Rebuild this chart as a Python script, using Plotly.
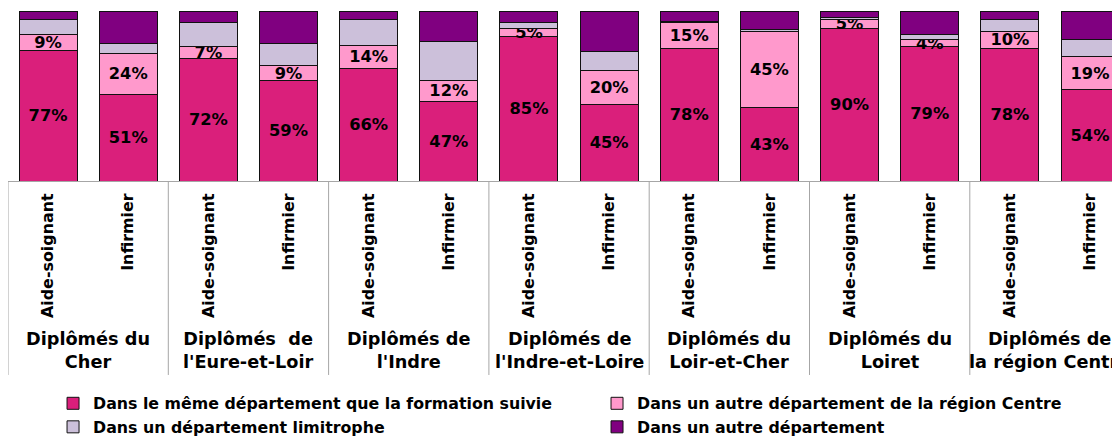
import plotly.graph_objects as go

# ---- data ----
jobs = ["Aide-soignant", "Infirmier"] * 7
groups = [
    "Diplômés du<br>Cher",
    "Diplômés\u00a0 de<br>l'Eure-et-Loir",
    "Diplômés de<br>l'Indre",
    "Diplômés de<br>l'Indre-et-Loire",
    "Diplômés du<br>Loir-et-Cher",
    "Diplômés du<br>Loiret",
    "Diplômés de<br>la région Centre",
]
series_names = [
    "Dans le même département que la formation suivie",
    "Dans un autre département de la région Centre",
    "Dans un département limitrophe",
    "Dans un autre département",
]
same_dept = [77, 51, 72, 59, 66, 47, 85, 45, 78, 43, 90, 79, 78, 54]
other_region = [9, 24, 7, 9, 14, 12, 5, 20, 15, 45, 5, 4, 10, 19]
limitrophe = [9, 6, 14, 13, 15, 23, 3, 11, 1, 1, 1, 3, 7, 10]
other_dept = [5, 19, 7, 19, 5, 18, 7, 24, 6, 11, 4, 14, 5, 17]

colors = ["#DA1F7B", "#FF99CC", "#CCC0DA", "#800080"]
show_labels = [True, True, False, False]
legend_ids = ["legend", "legend2", "legend", "legend2"]

FONT = "'DejaVu Sans', Verdana, sans-serif"
xs = list(range(len(jobs)))


def b(s):
    return "<b>" + s + "</b>"


fig = go.Figure()
for name, vals, col, lab, lg in zip(series_names,
                                     [same_dept, other_region, limitrophe, other_dept],
                                     colors, show_labels, legend_ids):
    fig.add_trace(go.Bar(
        x=xs, y=vals, name=b(name),
        marker=dict(color=col, line=dict(color="#111111", width=1)),
        text=[b(f"{v}%") for v in vals] if lab else None,
        textposition="inside" if lab else "none",
        insidetextanchor="middle",
        textangle=0,
        textfont=dict(family=FONT, size=16.3, color="#000000", weight="bold"),
        legend=lg,
        hoverinfo="skip",
    ))

# group labels
n_groups = len(groups)
for k, g in enumerate(groups):
    fig.add_annotation(
        x=2 * k + 0.5, xref="x", y=-0.995, yref="paper",
        text=b(g), showarrow=False, xanchor="center", yanchor="middle",
        font=dict(family=FONT, size=17.7, color="#000000", weight="bold"),
    )

# divider lines of the category table
for k in range(n_groups + 1):
    fig.add_shape(
        type="line", xref="x", yref="paper",
        x0=2 * k - 0.5, x1=2 * k - 0.5, y0=0, y1=-1.141,
        line=dict(color="#A6A6A6", width=1),
    )

legend_common = dict(
    yanchor="top", y=-1.209, orientation="v", traceorder="normal",
    bgcolor="rgba(0,0,0,0)",
    font=dict(family=FONT, size=15.8, color="#000000", weight="bold"),
)

# the page body has an 8px margin: the figure starts at (8, 8) in the window
fig.update_layout(
    width=1112, height=428,
    margin=dict(l=0, r=0, t=3, b=255, autoexpand=False),
    barmode="stack",
    bargap=0.276,
    plot_bgcolor="white",
    paper_bgcolor="white",
    uniformtext=dict(minsize=16.3, mode="show"),
    showlegend=True,
    legend=dict(x=0.0405, xanchor="left", **legend_common),
    legend2=dict(x=0.5297, xanchor="left", **legend_common),
    xaxis=dict(
        range=[-0.5, 13.374],
        tickmode="array", tickvals=xs, ticktext=[b(j) for j in jobs],
        tickangle=-90, ticks="", ticklabelstandoff=5,
        tickfont=dict(family=FONT, size=15.9, color="#000000", weight="bold"),
        showline=True, linecolor="#A6A6A6", linewidth=1,
        showgrid=False, zeroline=False, automargin=False, fixedrange=True,
    ),
    yaxis=dict(range=[0, 100], visible=False, showgrid=False, automargin=False),
)

fig.write_html("out.html")
